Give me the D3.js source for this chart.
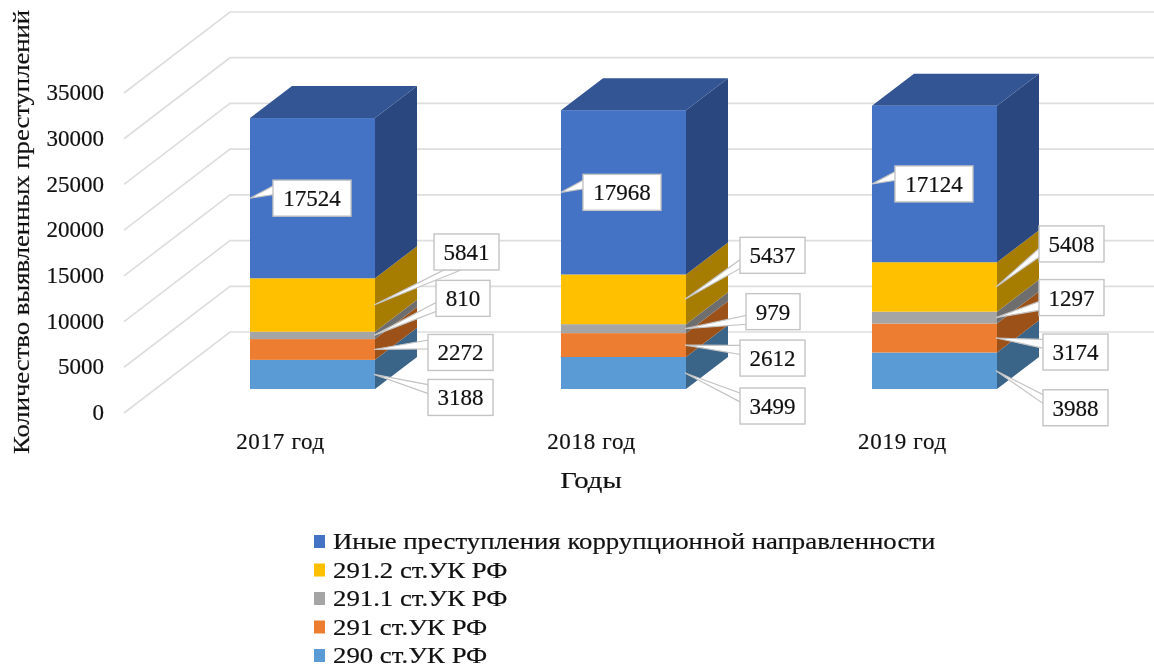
<!DOCTYPE html>
<html><head><meta charset="utf-8">
<script src="https://cdn.jsdelivr.net/npm/d3@7/dist/d3.min.js"></script>
<style>html,body{margin:0;padding:0;background:#fff}svg{display:block;filter:blur(0.6px)}
text{font-family:"Liberation Serif",serif;fill:#111;stroke:#111;stroke-width:0.2px}</style></head><body>
<svg id="c" width="1154" height="667"></svg>
<script>
const categories=["2017 год","2018 год","2019 год"];
const seriesNames=["290 ст.УК РФ","291 ст.УК РФ","291.1 ст.УК РФ","291.2 ст.УК РФ","Иные преступления коррупционной направленности"];
const s290=[3188,3499,3988];
const s291=[2272,2612,3174];
const s2911=[810,979,1297];
const s2912=[5841,5437,5408];
const sOther=[17524,17968,17124];
const yTicks=[0,5000,10000,15000,20000,25000,30000,35000];
const yTitle="Количество выявленных преступлений";
const xTitle="Годы";

// styling per series: front, side
const fronts=["#5B9BD5","#ED7D31","#A5A5A5","#FFC000","#4472C4"];
const sides=["#3A6488","#9C5119","#6E6E6E","#A67D00","#2A4780"];
const topColor="#335593";
// callout placement relative to the anchor: [left offset, centre offset, base on bottom edge]
const callouts=[
 [[54,23],[54,3],[62,-37],[60,-53,1],[23,0]],
 [[55,33],[55,13],[61,-17],[55,-44],[22,0]],
 [[47,37],[47,14],[43,-20],[43,-43],[23,0]]];

const values=[s290,s291,s2911,s2912,sOther];
const svg=d3.select("#c");
const depthX=42, depthY=-32;              // bar depth
const wallX=106, wallY=-81;               // floor depth
const y=d3.scaleLinear().domain([0,35000]).range([413,93]);
const barY=v=>y(v)-24;
const x=d3.scaleBand().domain(categories).range([250,997]).paddingInner(0.598).paddingOuter(0);
const bw=x.bandwidth();
const gridStroke="#dedede";

// walls
svg.append("g").selectAll("path").data(yTicks).join("path")
 .attr("fill","none").attr("stroke",gridStroke).attr("stroke-width",1.7)
 .attr("d",t=>d3.line()([[124,y(t)],[124+wallX,y(t)+wallY],[1154,y(t)+wallY]]));

// y axis
const gy=svg.append("g").attr("transform","translate(104,0)").call(d3.axisLeft(y).tickValues(yTicks).tickSize(0).tickPadding(0).tickFormat(d3.format("d")));
gy.select(".domain").remove();
gy.selectAll("text").style("font-family",'"Liberation Serif",serif').style("font-size","23px").attr("dy","0.33em").attr("transform","translate(0,-1) ");

// x axis
const gx=svg.append("g").attr("transform","translate(-32,431)").call(d3.axisBottom(x).tickSize(0).tickPadding(0));
gx.select(".domain").remove();
gx.selectAll("text").style("font-family",'"Liberation Serif",serif').style("font-size","23px").style("letter-spacing","0.7px").attr("dy","0.8em");

svg.append("text").attr("transform","translate(591,488) scale(1.2,1)").attr("text-anchor","middle").attr("font-size",24).text(xTitle);
svg.append("text").attr("transform","translate(29,232) rotate(-90) scale(1.16,1)").attr("text-anchor","middle").attr("font-size",23).text(yTitle);

// bars
const poly=p=>p.map(q=>q.join(",")).join(" ");
categories.forEach((c,i)=>{
  const g=svg.append("g");
  const L=x(c),R=L+bw;
  let acc=0;
  const stack=values.map((arr,k)=>{const a=acc;acc+=arr[i];return {k,v:arr[i],a,b:acc};});
  g.selectAll("polygon.side").data(stack).join("polygon").attr("class","side").attr("fill",d=>sides[d.k])
   .attr("points",d=>poly([[R,barY(d.a)],[R+depthX,barY(d.a)+depthY],[R+depthX,barY(d.b)+depthY],[R,barY(d.b)]]));
  g.append("polygon").attr("fill",topColor)
   .attr("points",poly([[L,barY(acc)],[L+depthX,barY(acc)+depthY],[R+depthX,barY(acc)+depthY],[R,barY(acc)]]));
  g.selectAll("rect").data(stack).join("rect").attr("fill",d=>fronts[d.k])
   .attr("x",L).attr("width",bw).attr("y",d=>barY(d.b)).attr("height",d=>barY(d.a)-barY(d.b));
});

// data labels
const boxW=n=>n>=10000?78:n>=1000?65:54, boxH=36;
const lab=svg.append("g");
categories.forEach((c,i)=>{
  let acc=0;
  values.forEach((arr,k)=>{
    const v=arr[i],mid=acc+v/2;acc+=v;
    const left=k===4;
    const ax=left?x(c):x(c)+bw-1, ay=barY(mid);
    const [dx,dy,onBottom]=callouts[i][k];
    const bx=ax+dx, cy=ay+dy, by=cy-boxH/2, w=boxW(v);
    let base;
    if(onBottom) base=[[bx+10,by+boxH],[bx+27,by+boxH]];
    else if(ay>cy+1) base=[[bx+1,by+boxH*0.6],[bx+1,by+boxH*0.85]];
    else base=[[bx+1,by+boxH*0.15],[bx+1,by+boxH*0.4]];
    lab.append("polygon").attr("points",poly([[ax,ay],...base])).attr("fill","#fff").attr("stroke","#c4c4c4").attr("stroke-width",1.2);
    lab.append("rect").attr("x",bx).attr("y",by).attr("width",w).attr("height",boxH).attr("fill","#fff").attr("stroke","#c4c4c4").attr("stroke-width",1.4);
    lab.append("text").attr("x",bx+w/2).attr("y",cy+8).attr("text-anchor","middle").attr("font-size",23).text(v);
  });
});

// legend
const lg=d3.scalePoint().domain(seriesNames.slice().reverse()).range([542,656]);
const leg=svg.append("g").selectAll("g").data(seriesNames).join("g").attr("transform",d=>`translate(0,${lg(d)})`);
leg.append("rect").attr("x",314).attr("y",-7).attr("width",11).attr("height",13).attr("fill",(d,i)=>fronts[i]);
leg.append("text").attr("transform","translate(333,7) scale(1.165,1)").attr("font-size",23).text(d=>d);
</script></body></html>
